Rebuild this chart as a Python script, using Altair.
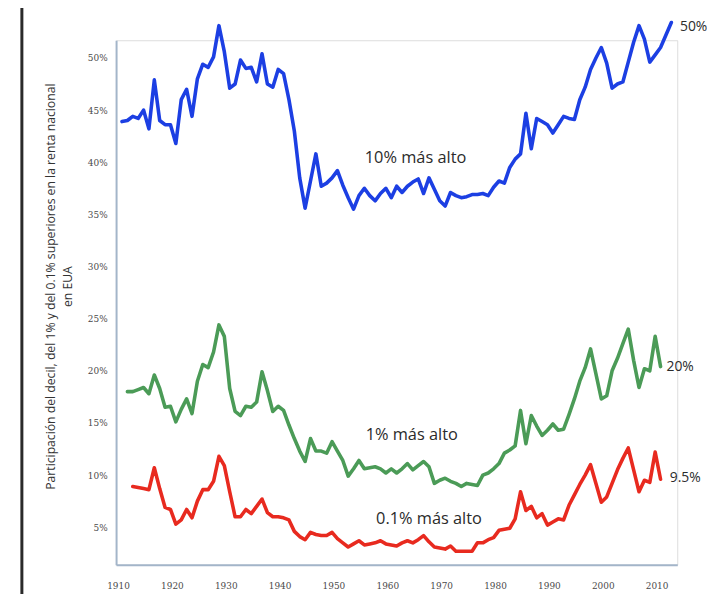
import altair as alt
import pandas as pd

# ---- data (percent of national income) ----
blue_start = 1910  # top 10 %
blue = [
    43.9, 44.0, 44.4, 44.2, 45.0, 43.2, 47.9, 44.0, 43.6, 43.6,
    41.8, 46.0, 47.0, 44.4, 48.0, 49.4, 49.1, 50.1, 53.1, 50.6,
    47.1, 47.5, 49.8, 49.0, 49.1, 47.7, 50.4, 47.5, 47.2, 48.9,
    48.5, 46.0, 43.0, 38.5, 35.6, 38.2, 40.8, 37.7, 38.0, 38.5,
    39.2, 37.8, 36.6, 35.5, 36.8, 37.5, 36.8, 36.3, 37.0, 37.5,
    36.6, 37.7, 37.1, 37.7, 38.1, 38.4, 37.0, 38.5, 37.4, 36.3,
    35.8, 37.1, 36.8, 36.6, 36.7, 36.9, 36.9, 37.0, 36.8, 37.6,
    38.2, 38.0, 39.5, 40.3, 40.8, 44.7, 41.3, 44.2, 43.9, 43.6,
    42.8, 43.6, 44.4, 44.2, 44.1, 46.0, 47.2, 48.9, 50.0, 51.0,
    49.5, 47.1, 47.5, 47.7, 49.6, 51.5, 53.1, 51.8, 49.6, 50.3,
    51.0, 52.2, 53.4,
]
green_start = 1911  # top 1 %
green = [
    18.0, 18.0, 18.2, 18.4, 17.8, 19.6, 18.3, 16.5, 16.6, 15.1,
    16.3, 17.3, 15.9, 19.0, 20.6, 20.3, 21.8, 24.4, 23.3, 18.3,
    16.1, 15.7, 16.6, 16.5, 17.0, 19.9, 18.1, 16.1, 16.6, 16.2,
    14.8, 13.5, 12.3, 11.3, 13.5, 12.3, 12.3, 12.1, 13.2, 12.3,
    11.4, 9.9, 10.6, 11.4, 10.6, 10.7, 10.8, 10.6, 10.2, 10.6,
    10.2, 10.6, 11.1, 10.5, 10.9, 11.3, 10.8, 9.2, 9.5, 9.7,
    9.4, 9.2, 8.9, 9.2, 9.1, 9.0, 10.0, 10.2, 10.6, 11.1,
    12.1, 12.4, 12.8, 16.2, 13.0, 15.7, 14.7, 13.8, 14.3, 14.9,
    14.3, 14.4, 15.8, 17.3, 19.0, 20.3, 22.1, 19.7, 17.3, 17.6,
    20.0, 21.2, 22.6, 24.0, 21.0, 18.4, 20.2, 20.0, 23.3, 20.4,
]
red_start = 1912  # top 0.1 %
red = [
    8.9, 8.8, 8.7, 8.6, 10.7, 8.7, 6.9, 6.7, 5.3, 5.7,
    6.7, 5.9, 7.5, 8.6, 8.6, 9.4, 11.8, 10.9, 8.4, 6.0,
    6.0, 6.7, 6.3, 7.0, 7.7, 6.4, 6.0, 6.0, 5.9, 5.7,
    4.6, 4.1, 3.8, 4.5, 4.3, 4.2, 4.2, 4.5, 3.9, 3.5,
    3.1, 3.4, 3.7, 3.3, 3.4, 3.5, 3.7, 3.4, 3.3, 3.2,
    3.5, 3.7, 3.5, 3.8, 4.2, 3.6, 3.1, 3.0, 2.9, 3.2,
    2.7, 2.7, 2.7, 2.7, 3.5, 3.5, 3.8, 4.0, 4.7, 4.8,
    4.9, 5.8, 8.4, 6.6, 7.0, 5.9, 6.3, 5.2, 5.5, 5.8,
    5.7, 7.1, 8.1, 9.1, 10.0, 11.0, 9.2, 7.4, 7.9, 9.2,
    10.5, 11.6, 12.6, 10.5, 8.4, 9.5, 9.3, 12.2, 9.6,
]

series_names = ["10% más alto", "1% más alto", "0.1% más alto"]
series_colors = ["#1c3fe3", "#4b9b57", "#e82a1f"]

x_ticks = [1910, 1920, 1930, 1940, 1950, 1960, 1970, 1980, 1990, 2000, 2010]
y_ticks = [5, 10, 15, 20, 25, 30, 35, 40, 45, 50]

# inline labels (text, year, value)
inner_text = ["10% más alto", "1% más alto", "0.1% más alto"]
inner_x = [1964.5, 1963.8, 1967.0]
inner_y = [40.4, 13.8, 5.8]

end_text = ["50%", "20%", "9.5%"]
end_x = [2013.6, 2011.1, 2011.7]
end_y = [53.0, 20.4, 9.7]

y_title = ["Participación del decil, del 1% y del 0.1% superiores en la renta nacional", "en EUA"]

# ---- tables ----
rows = []
for name, start, vals in zip(series_names, [blue_start, green_start, red_start], [blue, green, red]):
    for i, v in enumerate(vals):
        rows.append({"serie": name, "anio": start + i, "valor": v})
df = pd.DataFrame(rows)
inner_df = pd.DataFrame({"t": inner_text, "x": inner_x, "y": inner_y})
end_df = pd.DataFrame({"t": end_text, "x": end_x, "y": end_y})

x_scale = alt.Scale(domain=[1908.9, 2013.1], nice=False, zero=False)
y_scale = alt.Scale(domain=[1.4, 51.7], nice=False, zero=False)

axis_common = dict(
    domainColor="#a3b5c9", domainWidth=2, ticks=False, grid=False,
    labelColor="#4a4a4a", labelFont="DejaVu Serif", labelFontSize=9,
)

lines = alt.Chart(df).mark_line(strokeWidth=3.6, strokeJoin="round", strokeCap="round", clip=False).encode(
    x=alt.X("anio:Q", scale=x_scale,
            axis=alt.Axis(values=x_ticks, format="d", title=None, labelPadding=17,
                          labelOffset=-4, **axis_common)),
    y=alt.Y("valor:Q", scale=y_scale,
            axis=alt.Axis(values=y_ticks, labelExpr="datum.value + '%'", labelPadding=9,
                          title=y_title, titleX=-66, titleY=248, titleAngle=270,
                          titleAlign="center", titleBaseline="middle", titleLineHeight=17,
                          titleFont="Open Sans", titleFontSize=12.3, titleFontWeight="normal",
                          titleColor="#333333", **axis_common)),
    color=alt.Color("serie:N", scale=alt.Scale(domain=series_names, range=series_colors), legend=None),
)

inner = alt.Chart(inner_df).mark_text(font="Open Sans", fontSize=16.5, color="#2b2b2b", align="center",
                                      baseline="middle").encode(
    x=alt.X("x:Q", scale=x_scale), y=alt.Y("y:Q", scale=y_scale), text="t:N")

ends = alt.Chart(end_df).mark_text(font="Open Sans", fontSize=14, color="#2b2b2b", align="left",
                                   baseline="middle").encode(
    x=alt.X("x:Q", scale=x_scale), y=alt.Y("y:Q", scale=y_scale), text="t:N")

frame = alt.Chart(pd.DataFrame({"k": [0]})).mark_rule(color="#2a2a2a", strokeWidth=3).encode(
    x=alt.value(-95), y=alt.value(-40), y2=alt.value(580))

chart = alt.layer(lines, inner, ends, frame).properties(
    width=566, height=529,
    autosize=alt.AutoSizeParams(type="none"),
    padding={"left": 109, "top": 30, "right": 30, "bottom": 27},
).configure_view(stroke=None).configure(background="white")

chart.save("out.html", embed_options={"renderer": "svg", "actions": False})
